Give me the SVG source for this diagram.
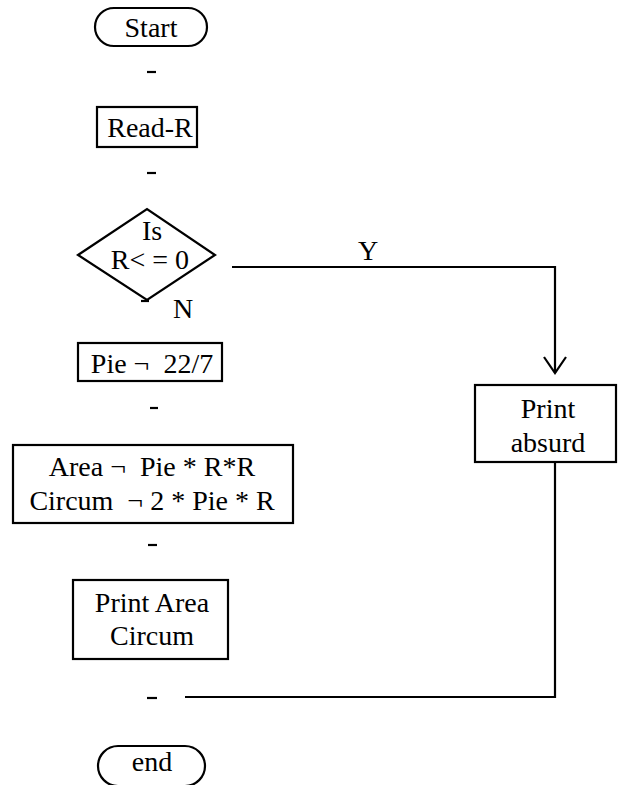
<svg xmlns="http://www.w3.org/2000/svg" width="621" height="785" viewBox="0 0 621 785">
<defs>
<style>
.s{fill:none;stroke:#000;stroke-width:2.2}
.t{font-family:"Liberation Serif","Times New Roman",serif;font-size:28px;fill:#000;text-anchor:middle}
.c{fill:none;stroke:#000;stroke-width:2.2}
</style>
<marker id="ah" viewBox="0 0 20 26" refX="17" refY="13" markerWidth="20" markerHeight="26" markerUnits="userSpaceOnUse" orient="auto">
<path d="M1 2 L17 13 L1 24" fill="none" stroke="#000" stroke-width="2.2"/>
</marker>
</defs>
<rect width="621" height="785" fill="#fff"/>
<g id="start">
<rect class="s" x="95" y="8" width="112" height="38" rx="19"/>
<text class="t" x="151" y="37">Start</text>
</g>
<g id="read">
<rect class="s" x="97" y="107" width="100" height="40"/>
<text class="t" x="150" y="137">Read-R</text>
</g>
<g id="decision">
<polygon class="s" points="78,255 147,209 215,255 147,300"/>
<text class="t" x="152" y="240">Is</text>
<text class="t" x="150" y="269">R&lt; = 0</text>
</g>
<g id="pie">
<rect class="s" x="78" y="343" width="144" height="38"/>
<text class="t" x="152" y="373" xml:space="preserve">Pie ¬  22/7</text>
</g>
<g id="area">
<rect class="s" x="13" y="445" width="280" height="78"/>
<text class="t" x="152" y="476" xml:space="preserve">Area ¬  Pie * R*R</text>
<text class="t" x="152" y="510" xml:space="preserve">Circum  ¬ 2 * Pie * R</text>
</g>
<g id="printarea">
<rect class="s" x="73" y="580" width="155" height="79"/>
<text class="t" x="152" y="612">Print Area</text>
<text class="t" x="152" y="645">Circum</text>
</g>
<g id="absurd">
<rect class="s" x="475" y="385" width="141" height="77"/>
<text class="t" x="548" y="418">Print</text>
<text class="t" x="548" y="452">absurd</text>
</g>
<g id="end">
<rect class="s" x="98" y="746" width="107" height="40" rx="20"/>
<text class="t" x="152" y="771">end</text>
</g>
<g id="connectors">
<line class="c" x1="147" y1="72" x2="156" y2="72"/>
<line class="c" x1="147" y1="173" x2="156" y2="173"/>
<line class="c" x1="141" y1="301" x2="149" y2="301"/>
<line class="c" x1="150" y1="408" x2="158" y2="408"/>
<line class="c" x1="148" y1="545" x2="157" y2="545"/>
<line class="c" x1="147" y1="698" x2="157" y2="698"/>
<polyline class="c" points="232,267 555,267 555,373" marker-end="url(#ah)"/>
<polyline class="c" points="555,462 555,697 185,697"/>
<text class="t" x="368" y="260">Y</text>
<text class="t" x="183" y="318">N</text>
</g>
</svg>
